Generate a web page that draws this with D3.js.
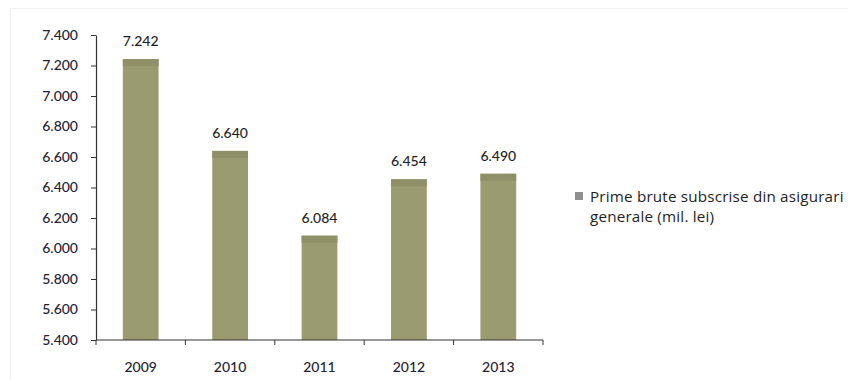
<!DOCTYPE html>
<html>
<head>
<meta charset="utf-8">
<script src="https://cdn.jsdelivr.net/npm/d3@7"></script>
<style>
  html, body { margin: 0; padding: 0; background: #ffffff; }
  svg { display: block; }
</style>
</head>
<body>
<svg id="chart" width="848" height="380"></svg>
<script>
// Gross written premiums from general insurance (mil. lei)
const years = ["2009", "2010", "2011", "2012", "2013"];
const premiums = [7242, 6640, 6084, 6454, 6490];
const yTicks = [5400, 5600, 5800, 6000, 6200, 6400, 6600, 6800, 7000, 7200, 7400];
const seriesName = ["Prime brute subscrise din asigurari", "generale (mil. lei)"];

const svg = d3.select("#chart");
const font = "Lato, 'Open Sans', sans-serif";
const barColor = "#9b9b71";
const barTop = "#909068";

// faint frame of the chart area
svg.append("rect")
  .attr("x", 10.5).attr("y", 8.5).attr("width", 840).attr("height", 380)
  .attr("fill", "none").attr("stroke", "#f1f1f1");

const x = d3.scaleBand().domain(years).range([96, 543]).paddingInner(0.6).paddingOuter(0.3);
const y = d3.scaleLinear().domain([5400, 7400]).range([340, 35]);

const fmt = v => d3.format(",")(v).replace(/,/g, ".");

// bars
const bars = svg.append("g");
years.forEach((yr, i) => {
  const v = premiums[i];
  bars.append("rect")
    .attr("x", x(yr)).attr("y", y(v))
    .attr("width", x.bandwidth()).attr("height", y(5400) - y(v))
    .attr("fill", barColor);
  bars.append("rect")
    .attr("x", x(yr)).attr("y", y(v))
    .attr("width", x.bandwidth()).attr("height", 7)
    .attr("fill", barTop);
  bars.append("text")
    .attr("x", x(yr) + x.bandwidth() / 2).attr("y", y(v) - 13)
    .attr("text-anchor", "middle")
    .attr("font-family", font).attr("font-size", 14).attr("font-weight", 500)
    .attr("fill", "#1e1e1e")
    .text(fmt(v));
});

// y axis
const yAxis = d3.axisLeft(y).tickValues(yTicks).tickFormat(fmt).tickSize(5).tickSizeOuter(0);
const gy = svg.append("g").attr("transform", "translate(96,0)").call(yAxis);
gy.select(".domain").attr("stroke", "#333").attr("stroke-width", 1.2);
gy.selectAll(".tick line").attr("stroke", "#333");
gy.selectAll(".tick text")
  .attr("x", -18)
  .attr("font-family", font).attr("font-size", 14).attr("font-weight", 500).attr("fill", "#1f2233");

// x axis with ticks between categories
const xPos = d3.scaleLinear().domain([0, years.length]).range([96, 543]);
const gx = svg.append("g").attr("transform", "translate(0,340)");
gx.append("line").attr("x1", 96).attr("x2", 543).attr("stroke", "#333").attr("stroke-width", 1.2);
d3.range(years.length + 1).forEach(k => {
  gx.append("line")
    .attr("x1", xPos(k)).attr("x2", xPos(k))
    .attr("y1", 0).attr("y2", 5).attr("stroke", "#333");
});
years.forEach(yr => {
  gx.append("text")
    .attr("x", x(yr) + x.bandwidth() / 2).attr("y", 32)
    .attr("text-anchor", "middle")
    .attr("font-family", font).attr("font-size", 14).attr("font-weight", 500).attr("fill", "#1f2233")
    .text(yr);
});

// legend
const lg = svg.append("g");
lg.append("rect").attr("x", 575).attr("y", 192).attr("width", 8).attr("height", 8).attr("fill", "#8f8f8f");
seriesName.forEach((line, i) => {
  lg.append("text")
    .attr("x", 590).attr("y", 202 + i * 20)
    .attr("font-family", "'Open Sans', sans-serif").attr("font-size", 15.2).attr("font-weight", 500)
    .attr("letter-spacing", 0.2)
    .attr("fill", "#1e1e1e")
    .text(line);
});
</script>
</body>
</html>
